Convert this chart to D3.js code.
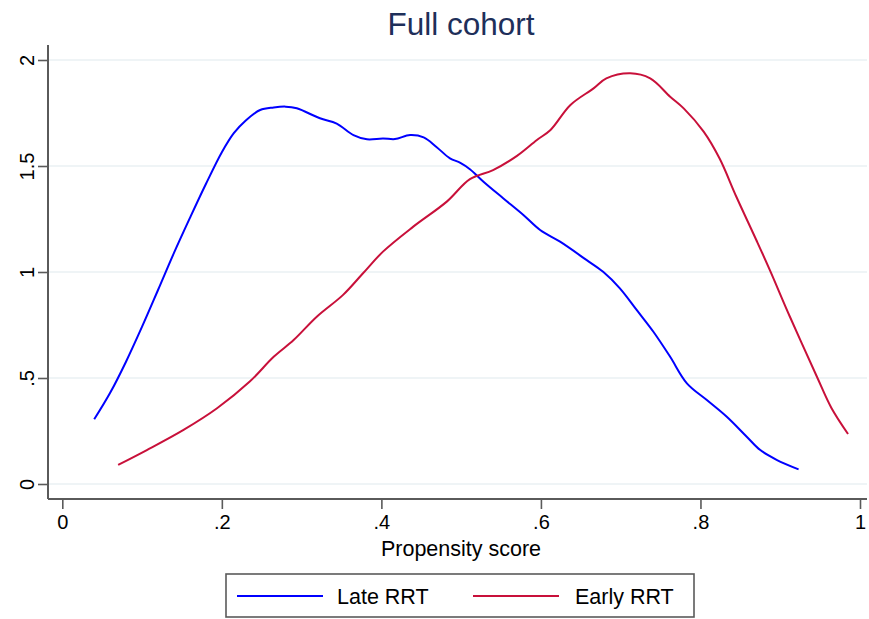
<!DOCTYPE html>
<html>
<head>
<meta charset="utf-8">
<script src="https://cdn.jsdelivr.net/npm/d3@7"></script>
<style>
  body { margin: 0; background: #fff; }
  svg { font-family: "Liberation Sans", Arial, Helvetica, sans-serif; }
</style>
</head>
<body>
<div id="chart"></div>
<script>
// Kernel density values
const lateX = [0.040,0.060,0.080,0.100,0.120,0.140,0.160,0.180,0.200,0.215,0.230,0.248,0.265,0.280,0.294,0.323,0.344,0.365,0.382,0.402,0.417,0.436,0.453,0.469,0.486,0.499,0.511,0.528,0.553,0.578,0.599,0.624,0.657,0.678,0.699,0.720,0.741,0.762,0.783,0.808,0.833,0.858,0.875,0.896,0.923];
const lateY = [0.305,0.430,0.578,0.742,0.915,1.090,1.255,1.415,1.565,1.655,1.715,1.764,1.776,1.780,1.772,1.725,1.700,1.646,1.626,1.630,1.627,1.646,1.635,1.590,1.536,1.515,1.485,1.426,1.347,1.269,1.198,1.143,1.057,1.001,0.923,0.821,0.718,0.600,0.475,0.396,0.317,0.223,0.160,0.113,0.069];

const earlyX = [0.070,0.106,0.152,0.194,0.235,0.265,0.290,0.319,0.352,0.377,0.402,0.440,0.482,0.511,0.540,0.570,0.595,0.612,0.637,0.666,0.682,0.712,0.737,0.762,0.779,0.804,0.824,0.845,0.870,0.887,0.912,0.946,0.964,0.985];
const earlyY = [0.090,0.160,0.255,0.357,0.483,0.600,0.679,0.789,0.892,0.994,1.096,1.214,1.332,1.438,1.481,1.548,1.623,1.670,1.788,1.866,1.913,1.937,1.913,1.827,1.772,1.662,1.535,1.355,1.151,1.009,0.790,0.506,0.360,0.236];

const xTicks = [0, 0.2, 0.4, 0.6, 0.8, 1];
const xTickLabels = ["0", ".2", ".4", ".6", ".8", "1"];
const yTicks = [0, 0.5, 1, 1.5, 2];
const yTickLabels = ["0", ".5", "1", "1.5", "2"];

const seriesNames = ["Late RRT", "Early RRT"];
const seriesColors = ["#0000ff", "#c8103a"];

const width = 869, height = 619;
const axisColor = "#5a5a5a";

const svg = d3.select("#chart")
    .append("svg")
    .attr("width", width)
    .attr("height", height);

const x = d3.scaleLinear().domain([0, 1]).range([62.3, 860]);
const y = d3.scaleLinear().domain([0, 2]).range([484, 60]);

const plotLeft = 48, plotRight = 867, plotTop = 45, plotBottom = 499;

// gridlines
svg.selectAll(".grid")
    .data(yTicks)
    .join("line")
    .attr("class", "grid")
    .attr("x1", plotLeft)
    .attr("x2", plotRight)
    .attr("y1", d => y(d))
    .attr("y2", d => y(d))
    .attr("stroke", "#eaf1f3")
    .attr("stroke-width", 1.6);

// y axis
const yAxis = svg.append("g")
    .attr("transform", `translate(${plotLeft},0)`)
    .call(d3.axisLeft(y).tickValues(yTicks).tickSize(10).tickFormat((d, i) => yTickLabels[i]));
yAxis.select(".domain").attr("d", `M0,${plotTop}V${plotBottom}`);
yAxis.selectAll("line").attr("stroke", axisColor).attr("stroke-width", 1.6);
yAxis.select(".domain").attr("stroke", axisColor).attr("stroke-width", 2);
yAxis.selectAll("text")
    .attr("font-size", 20)
    .attr("fill", "#000")
    .attr("text-anchor", "middle")
    .attr("x", 0)
    .attr("dy", 0)
    .attr("transform", "translate(-21,0) rotate(-90)")
    .attr("dominant-baseline", "central");

// x axis
const xAxis = svg.append("g")
    .attr("transform", `translate(0,${plotBottom})`)
    .call(d3.axisBottom(x).tickValues(xTicks).tickSize(10).tickFormat((d, i) => xTickLabels[i]));
xAxis.select(".domain").attr("d", `M${plotLeft},0H${plotRight}`);
xAxis.selectAll("line").attr("stroke", axisColor).attr("stroke-width", 1.6);
xAxis.select(".domain").attr("stroke", axisColor).attr("stroke-width", 2);
xAxis.selectAll("text")
    .attr("font-size", 20)
    .attr("fill", "#000")
    .attr("y", 16)
    .attr("dy", "0.71em");

// curves
const series = [
    lateX.map((v, i) => [v, lateY[i]]),
    earlyX.map((v, i) => [v, earlyY[i]])
];
const line = d3.line()
    .x(d => x(d[0]))
    .y(d => y(d[1]))
    .curve(d3.curveCatmullRom.alpha(0.5));

svg.selectAll(".curve")
    .data(series)
    .join("path")
    .attr("class", "curve")
    .attr("d", line)
    .attr("fill", "none")
    .attr("stroke", (d, i) => seriesColors[i])
    .attr("stroke-width", 2);

// titles
svg.append("text")
    .attr("x", 461)
    .attr("y", 35)
    .attr("text-anchor", "middle")
    .attr("font-size", 31.5)
    .attr("fill", "#1e2f5a")
    .text("Full cohort");

svg.append("text")
    .attr("x", 461)
    .attr("y", 556)
    .attr("text-anchor", "middle")
    .attr("font-size", 21.5)
    .attr("fill", "#000")
    .text("Propensity score");

// legend
const legend = svg.append("g");
legend.append("rect")
    .attr("x", 226)
    .attr("y", 574)
    .attr("width", 468)
    .attr("height", 43)
    .attr("fill", "#fff")
    .attr("stroke", axisColor)
    .attr("stroke-width", 1.6);

const legendLineX = [237, 473];
const legendTextX = [337, 575];
seriesNames.forEach((name, i) => {
    legend.append("line")
        .attr("x1", legendLineX[i])
        .attr("x2", legendLineX[i] + 86)
        .attr("y1", 596)
        .attr("y2", 596)
        .attr("stroke", seriesColors[i])
        .attr("stroke-width", 2);
    legend.append("text")
        .attr("x", legendTextX[i])
        .attr("y", 603.5)
        .attr("font-size", 21.5)
        .attr("fill", "#000")
        .text(name);
});
</script>
</body>
</html>
